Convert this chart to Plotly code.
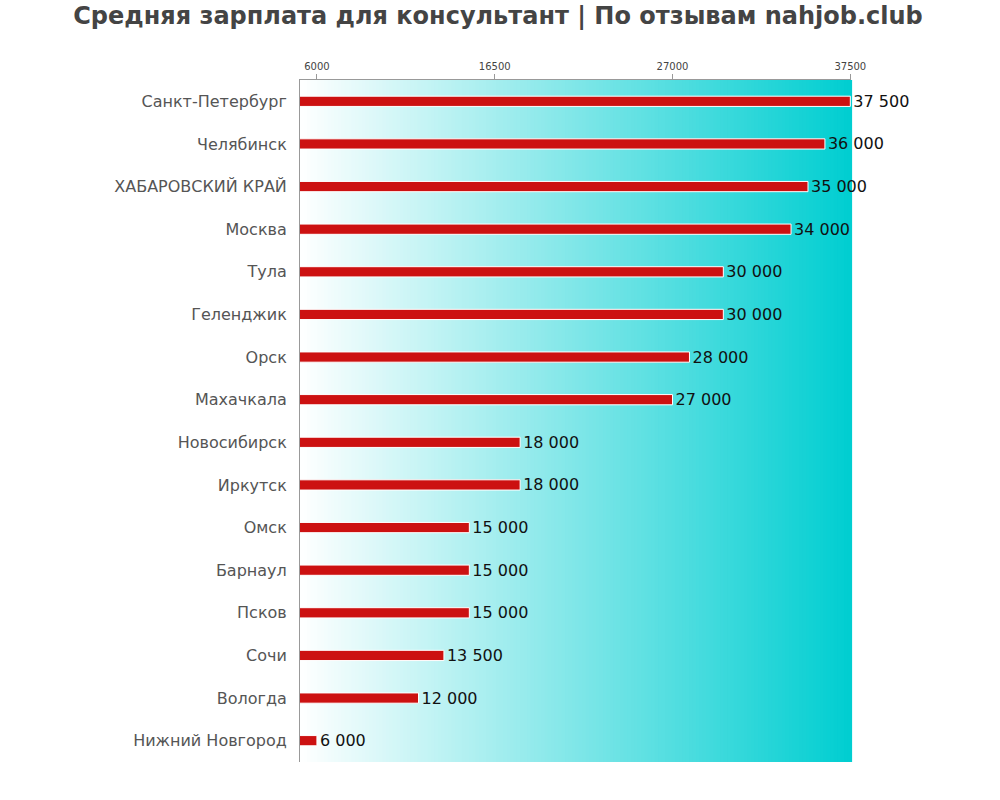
import plotly.graph_objects as go

cities = ["Санкт-Петербург", "Челябинск", "ХАБАРОВСКИЙ КРАЙ", "Москва", "Тула",
          "Геленджик", "Орск", "Махачкала", "Новосибирск", "Иркутск", "Омск",
          "Барнаул", "Псков", "Сочи", "Вологда", "Нижний Новгород"]
salaries = [37500, 36000, 35000, 34000, 30000, 30000, 28000, 27000, 18000, 18000,
            15000, 15000, 15000, 13500, 12000, 6000]
tick_vals = [6000, 16500, 27000, 37500]
title_text = "Средняя зарплата для консультант | По отзывам nahjob.club"

labels = [f"{v:,}".replace(",", " ") for v in salaries]

fig = go.Figure()
fig.add_trace(go.Bar(
    x=salaries, y=cities, orientation="h", base=0,
    marker=dict(color="#CC1111", line=dict(color="white", width=1)),
    width=0.24,
    text=labels, textposition="outside", constraintext="none",
    textfont=dict(family="DejaVu Sans", size=16, color="#111111"),
    cliponaxis=False,
))

# gradient background
n = 160
shapes = []
for i in range(n):
    t = (i + 0.5) / n
    r = round(255 * (1 - t))
    g = round(255 + (206 - 255) * t)
    b = round(255 + (209 - 255) * t)
    shapes.append(dict(type="rect", xref="x domain", yref="y domain",
                       x0=i / n, x1=(i + 1) / n + 0.002, y0=0, y1=1,
                       fillcolor=f"rgb({r},{g},{b})", line=dict(width=0),
                       layer="below"))

fig.update_layout(
    width=1000, height=800,
    margin=dict(l=300, r=149, t=80, b=38),
    paper_bgcolor="white", plot_bgcolor="white",
    shapes=shapes,
    showlegend=False,
    title=dict(text=title_text, x=0.498, xanchor="center", y=0.98, yanchor="middle",
               font=dict(family="DejaVu Sans", size=24, color="#444444", weight="bold")),
    xaxis=dict(side="top", range=[5000, 37540], tickvals=tick_vals,
               ticktext=[str(v) for v in tick_vals],
               showgrid=False, zeroline=False, showline=True, linecolor="#999999",
               ticks="outside", ticklen=5, tickcolor="#999999",
               tickfont=dict(family="DejaVu Sans", size=10, color="#444444")),
    yaxis=dict(autorange="reversed", showgrid=False, zeroline=False, showline=True,
               linecolor="#999999", ticks="", ticklabelstandoff=9,
               tickfont=dict(family="DejaVu Sans", size=16, color="#555555")),
    font=dict(family="DejaVu Sans"),
)

fig.write_html("out.html")
